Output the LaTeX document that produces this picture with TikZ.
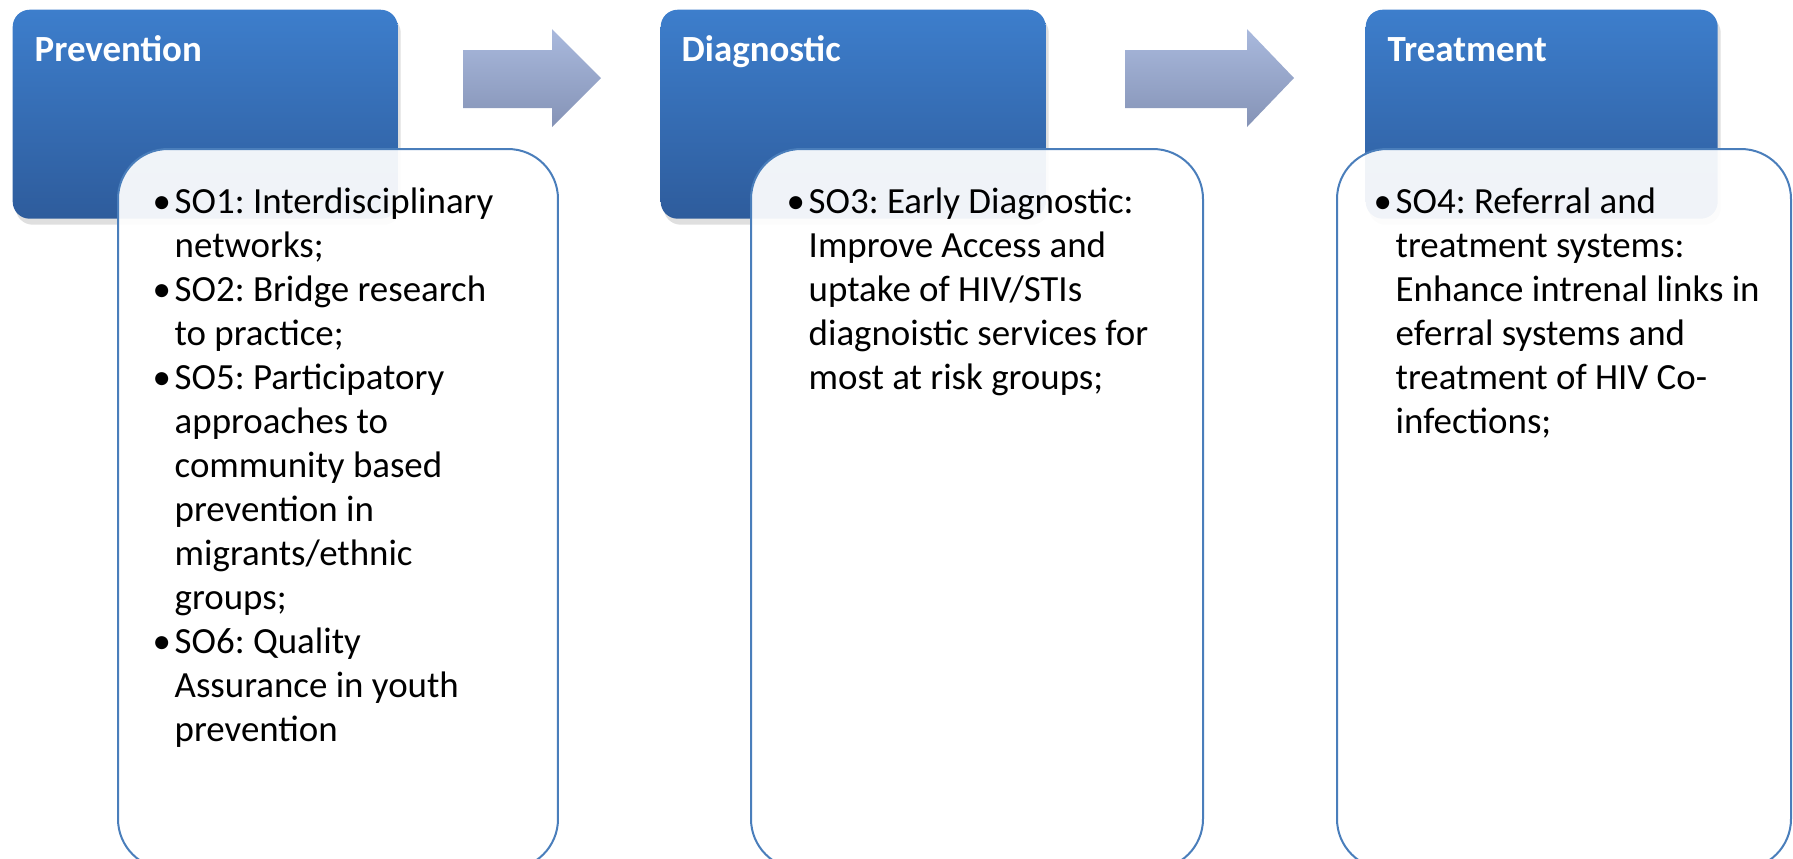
\documentclass[tikz,border=0pt]{standalone}
\usepackage{fontspec}
\setmainfont{Carlito}
\usetikzlibrary{shadows}
\definecolor{stageTop}{HTML}{3D7ECC}
\definecolor{stageBottom}{HTML}{2E5C9C}
\definecolor{flowTop}{HTML}{A9B9DD}
\definecolor{flowBottom}{HTML}{8593B6}
\definecolor{itemLine}{HTML}{4A7EBB}
\newcommand{\itm}{\makebox[2.2mm][l]{\textbullet}}
\newcommand{\cnt}{\hspace*{2.2mm}}
\frenchspacing

\begin{document}
\begin{tikzpicture}[x=0.1mm,y=-0.1mm]
		\tikzset{stage/.style = {anchor=north west, rounded corners=1.7mm, top color=stageTop, bottom color=stageBottom, minimum height=20.9mm, inner sep=0pt, drop shadow={opacity=0.25, shadow xshift=0.3mm, shadow yshift=-0.6mm}}}
		\tikzset{detail/.style = {anchor=north west, rounded corners=5mm, draw=itemLine, line width=0.2mm, fill=white, fill opacity=0.93, minimum height=72mm, inner sep=0pt}}
		\tikzset{stagetitle/.style = {anchor=base west, inner sep=0pt, text=white, font=\bfseries\fontsize{10.5pt}{12.5pt}\selectfont}}
		\tikzset{itemtext/.style = {anchor=base west, inner sep=0pt, font=\fontsize{10.5pt}{12.52pt}\selectfont}}
		\tikzset{flow/.style = {top color=flowTop, bottom color=flowBottom}}

		\useasboundingbox (0,0) rectangle (1793,858);
		\clip (0,0) rectangle (1793,858);

		\node[stage, minimum width=38.5mm] (prev) at (12,9) {};
		\node[stage, minimum width=38.5mm] (diag) at (660,9) {};
		\node[stage, minimum width=35.2mm] (treat) at (1365,9) {};

		\path[flow] (463,50) -- (552,50) -- (552,29) -- (601,78) -- (552,127) -- (552,108) -- (463,108) -- cycle;
		\path[flow] (1125,50) -- (1247,50) -- (1247,29) -- (1294,78) -- (1247,127) -- (1247,108) -- (1125,108) -- cycle;

		\node[detail, minimum width=44mm] (prevBox) at (117,148) {};
		\node[detail, minimum width=45.2mm] (diagBox) at (750,148) {};
		\node[detail, minimum width=45.4mm] (treatBox) at (1336,148) {};

		\node[stagetitle] (prevTitle) at (34,61) {Prevention};
		\node[stagetitle] (diagTitle) at (681,61) {Diagnostic};
		\node[stagetitle] (treatTitle) at (1387,61) {Treatment};

		\node[itemtext] (prevItems) at (152,213) {\begin{tabular}[t]{@{}l@{}}
			\itm SO1: Interdisciplinary\\
			\cnt networks;\\
			\itm SO2: Bridge research\\
			\cnt to practice;\\
			\itm SO5: Participatory\\
			\cnt approaches to\\
			\cnt community based\\
			\cnt prevention in\\
			\cnt migrants/ethnic\\
			\cnt groups;\\
			\itm SO6: Quality\\
			\cnt Assurance in youth\\
			\cnt prevention
		\end{tabular}};
		\node[itemtext] (diagItems) at (786,213) {\begin{tabular}[t]{@{}l@{}}
			\itm SO3: Early Diagnostic:\\
			\cnt Improve Access and\\
			\cnt uptake of HIV/STIs\\
			\cnt diagnoistic services for\\
			\cnt most at risk groups;
		\end{tabular}};
		\node[itemtext] (treatItems) at (1373,213) {\begin{tabular}[t]{@{}l@{}}
			\itm SO4: Referral and\\
			\cnt treatment systems:\\
			\cnt Enhance intrenal links in\\
			\cnt eferral systems and\\
			\cnt treatment of HIV Co-\\
			\cnt infections;
		\end{tabular}};

	\end{tikzpicture}
\end{document}
